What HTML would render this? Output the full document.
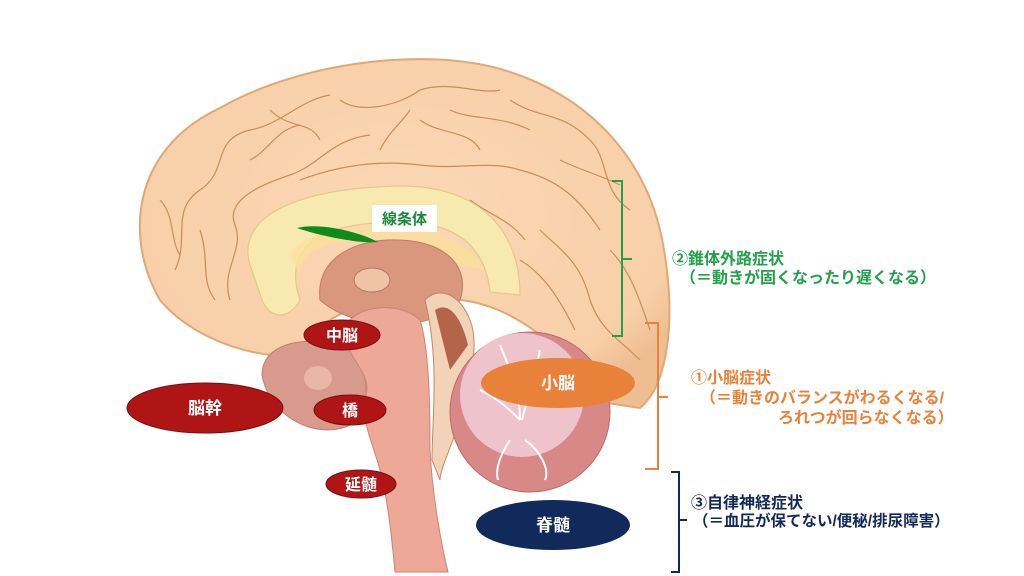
<!DOCTYPE html>
<html><head><meta charset="utf-8"><style>
html,body{margin:0;padding:0;background:#fff;}
svg{display:block}
text{font-family:"Liberation Sans","Noto Sans CJK JP",sans-serif;font-weight:bold;}
</style></head><body>
<svg width="1024" height="576" viewBox="0 0 1024 576" xmlns="http://www.w3.org/2000/svg">
<defs>
<radialGradient id="cb" cx="0.5" cy="0.45" r="0.6"><stop offset="0" stop-color="#fbd8b6"/><stop offset="0.85" stop-color="#f8cfa8"/><stop offset="1" stop-color="#efbd92"/></radialGradient>
</defs>
<path d="M160,300 C125,240 130,150 220,108 C300,62 430,45 510,72 C590,98 650,160 664,250 C676,320 668,385 640,408 L600,402 C565,345 510,305 460,300 C420,296 360,300 330,320 C310,340 300,356 280,356 C230,352 185,330 160,300 Z" fill="url(#cb)" stroke="#e0a877" stroke-width="2"/>
<g fill="none" stroke="#c98d5a" stroke-width="1.2">
<path d="M175,270 C190,240 170,210 200,190 C230,170 210,140 250,130 C280,125 300,100 330,95"/>
<path d="M230,300 C220,270 245,250 235,225 C225,200 260,185 290,175 C320,165 330,140 370,135"/>
<path d="M340,100 C360,115 400,105 420,90 C450,80 480,95 500,90"/>
<path d="M300,180 C340,165 380,160 420,165 C460,170 490,160 520,170 C560,180 580,200 600,230"/>
<path d="M510,100 C540,120 560,110 590,140 C610,160 600,190 630,210"/>
<path d="M420,120 C440,135 470,130 480,150"/>
<path d="M250,160 C270,150 275,130 300,125"/>
<path d="M540,230 C560,250 580,260 590,300 C600,330 620,340 640,360"/>
<path d="M520,260 C545,275 560,300 575,330"/>
<path d="M610,250 C630,270 640,300 650,330"/>
<path d="M200,230 C210,260 200,280 215,300"/>
<path d="M380,150 C390,130 400,125 410,110"/>
<path d="M560,160 C580,170 600,175 620,185"/>
<path d="M470,200 C490,215 510,220 525,240"/>
<path d="M160,200 C175,215 170,240 180,255"/>
<path d="M270,110 C290,130 310,120 320,140"/>
<path d="M450,110 C470,120 500,115 530,130"/>
</g>
<path d="M250,265 C235,215 300,188 400,186 C480,186 520,230 520,295 L490,292 C485,245 455,222 400,222 C330,222 280,240 300,300 C290,320 270,320 262,300 Z" fill="#f7e9b0" stroke="#e3c88a" stroke-width="1.2"/>
<path d="M290,255 C300,235 340,225 390,226 C440,228 470,245 485,270 L460,265 C440,245 400,238 360,240 C320,242 300,255 300,275 Z" fill="#fbe09a" opacity="0.8"/>
<path d="M320,300 C315,255 360,238 400,240 C450,242 470,270 460,300 C440,330 360,335 320,300 Z" fill="#d9977e" stroke="#c07a64"/>
<ellipse cx="372" cy="280" rx="18" ry="12" fill="#f0c2a6" stroke="#b8755c"/>
<path d="M262,375 C262,345 300,335 340,345 C370,355 375,410 350,425 C320,440 270,420 262,375 Z" fill="#d99a8e" stroke="#c08074"/>
<ellipse cx="318" cy="378" rx="14" ry="12" fill="#eab6a6"/>
<path d="M345,330 C350,305 400,300 420,320 C430,350 430,420 430,450 C432,490 440,540 448,572 L395,572 C392,540 388,500 380,470 C372,440 360,420 366,395 C372,370 345,360 345,330 Z" fill="#eea898" stroke="#c98474"/>
<path d="M425,300 C440,285 460,295 470,320 C480,345 470,380 460,420 C450,450 440,470 440,480 L432,460 C432,420 440,360 425,300 Z" fill="#f3d3b8" stroke="#c08866"/>
<path d="M435,310 C450,300 462,320 468,345 L450,370 Z" fill="#b4644a"/>
<circle cx="530" cy="412" r="80" fill="#d98888" stroke="#b86a6a"/>
<circle cx="522" cy="395" r="62" fill="#efc3cb"/>
<g fill="none" stroke="#fff" stroke-width="2">
<path d="M500,345 C510,370 520,390 520,420"/><path d="M540,350 C535,375 528,395 522,420"/><path d="M480,390 C500,400 510,410 520,420"/><path d="M525,440 C540,450 550,470 545,480"/><path d="M510,440 C500,455 495,470 498,480"/>
</g>
<path d="M297,228 C320,222 360,232 378,242 C360,244 320,236 297,228 Z" fill="#108a1c"/>
<rect x="372" y="205" width="65" height="27" fill="#fff"/>
<text x="404.5" y="224" font-size="15" fill="#1a8a3a" text-anchor="middle">線条体</text>
<ellipse cx="342" cy="335" rx="38" ry="15" fill="#b01516" stroke="#7a0e10"/>
<text x="342" y="341" font-size="16" fill="#fff" text-anchor="middle">中脳</text>
<ellipse cx="205" cy="408" rx="78" ry="25" fill="#b01516" stroke="#7a0e10"/>
<text x="205" y="414" font-size="17" fill="#fff" text-anchor="middle">脳幹</text>
<ellipse cx="350" cy="410" rx="36" ry="15" fill="#b01516" stroke="#7a0e10"/>
<text x="350" y="416" font-size="16" fill="#fff" text-anchor="middle">橋</text>
<ellipse cx="361" cy="484" rx="35" ry="14" fill="#b01516" stroke="#7a0e10"/>
<text x="361" y="490" font-size="16" fill="#fff" text-anchor="middle">延髄</text>
<ellipse cx="558" cy="383" rx="77" ry="25" fill="#e8823a"/>
<text x="558" y="389" font-size="17" fill="#fff" text-anchor="middle">小脳</text>
<ellipse cx="553" cy="525" rx="77" ry="25" fill="#12295c"/>
<text x="553" y="531" font-size="17" fill="#fff" text-anchor="middle">脊髄</text>
<g fill="none" stroke-width="2">
<path d="M612,181 H622 V336 H612 M622,259 H632" stroke="#22a04a"/>
<path d="M645,323 H658 V469 H645 M658,397 H668" stroke="#e8823a"/>
<path d="M671,472 H679 V572 H671 M679,520 H687" stroke="#12295c"/>
</g>
<g font-size="16">
<text x="672" y="264" fill="#22a04a">②錐体外路症状</text>
<text x="680" y="283" fill="#22a04a">（＝動きが固くなったり遅くなる）</text>
<text x="691" y="383" fill="#e8823a">①小脳症状</text>
<text x="700" y="403" fill="#e8823a">（＝動きのバランスがわるくなる/</text>
<text x="778" y="423" fill="#e8823a">ろれつが回らなくなる）</text>
<text x="691" y="508" fill="#12295c">③自律神経症状</text>
<text x="693" y="526" fill="#12295c" font-size="15.5">（＝血圧が保てない/便秘/排尿障害）</text>
</g>
</svg>
</body></html>
